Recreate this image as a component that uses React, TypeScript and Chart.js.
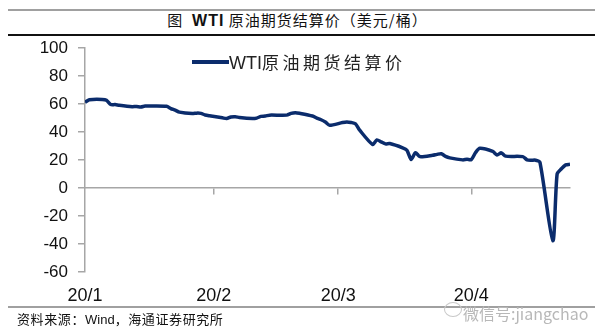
import React, { useEffect, useRef } from "react";
import { Chart, registerables } from "chart.js";

Chart.register(...registerables);

const DATES: string[] = [
  "2020-01-02", "2020-01-03", "2020-01-06", "2020-01-07", "2020-01-08", "2020-01-09", "2020-01-10",
  "2020-01-13", "2020-01-14", "2020-01-15", "2020-01-16", "2020-01-17", "2020-01-21", "2020-01-22",
  "2020-01-23", "2020-01-24", "2020-01-27", "2020-01-28", "2020-01-29", "2020-01-30", "2020-01-31",
  "2020-02-03", "2020-02-04", "2020-02-05", "2020-02-06", "2020-02-07", "2020-02-10", "2020-02-11",
  "2020-02-12", "2020-02-13", "2020-02-14", "2020-02-18", "2020-02-19", "2020-02-20", "2020-02-21",
  "2020-02-24", "2020-02-25", "2020-02-26", "2020-02-27", "2020-02-28",
  "2020-03-02", "2020-03-03", "2020-03-04", "2020-03-05", "2020-03-06", "2020-03-09", "2020-03-10",
  "2020-03-11", "2020-03-12", "2020-03-13", "2020-03-16", "2020-03-17", "2020-03-18", "2020-03-19",
  "2020-03-20", "2020-03-23", "2020-03-24", "2020-03-25", "2020-03-26", "2020-03-27", "2020-03-30",
  "2020-03-31",
  "2020-04-01", "2020-04-02", "2020-04-03", "2020-04-06", "2020-04-07", "2020-04-08", "2020-04-09",
  "2020-04-13", "2020-04-14", "2020-04-15", "2020-04-16", "2020-04-17", "2020-04-20", "2020-04-21",
  "2020-04-22", "2020-04-23", "2020-04-24",
];

const WTI_SETTLE: number[] = [
  61.18, 63.05, 63.27, 62.7, 59.61, 59.56, 59.04,
  58.08, 58.23, 57.81, 58.52, 58.54, 58.34, 56.74,
  55.59, 54.19, 53.14, 53.48, 53.33, 52.14, 51.56,
  50.11, 49.61, 50.75, 50.95, 50.32, 49.57, 49.94,
  51.17, 51.42, 52.05, 52.05, 53.29, 53.78, 53.38,
  51.43, 49.9, 48.73, 47.09, 44.76,
  46.75, 47.18, 46.78, 45.9, 41.28, 31.13, 34.36,
  32.98, 31.5, 31.73, 28.7, 26.95, 20.37, 25.22,
  22.43, 23.36, 24.01, 24.49, 22.6, 21.51, 20.09,
  20.48,
  20.31, 25.32, 28.34, 26.08, 23.63, 25.09, 22.76,
  22.41, 20.11, 19.87, 19.87, 18.27, -37.63, 10.01,
  13.78, 16.5, 16.94,
];

const X_TICK_DATES: string[] = ["2020-01-02", "2020-02-01", "2020-03-01", "2020-04-01"];
const X_TICK_LABELS: string[] = ["20/1", "20/2", "20/3", "20/4"];
const X_MARK_DATES: string[] = ["2020-02-01", "2020-03-01", "2020-04-01"];
const Y_MIN = -60;
const Y_MAX = 100;
const Y_STEP = 20;

const SERIES_NAME = "WTI原油期货结算价";

function dayNum(s: string): number {
  const [y, m, d] = s.split("-").map(Number);
  return (Date.UTC(y, m - 1, d) - Date.UTC(2019, 11, 31)) / 86400000;
}

export default function App() {
  const ref = useRef<HTMLCanvasElement | null>(null);

  useEffect(() => {
    if (!ref.current) return;
    const xMin = dayNum(DATES[0]);
    const xMax = dayNum(DATES[DATES.length - 1]);
    const chart = new Chart(ref.current, {
      type: "line",
      data: {
        datasets: [
          {
            label: SERIES_NAME,
            data: DATES.map((d, i) => ({ x: dayNum(d), y: WTI_SETTLE[i] })),
            borderColor: "#0b2c6c",
            borderWidth: 3.5,
            pointRadius: 0,
            tension: 0.25,
            xAxisID: "x",
            yAxisID: "y",
          },
        ],
      },
      options: {
        animation: false,
        responsive: false,
        maintainAspectRatio: false,
        layout: { padding: { top: 48, right: 25, left: 0, bottom: 0 } },
        plugins: { legend: { display: false }, tooltip: { enabled: false }, title: { display: false } },
        scales: {
          y: {
            type: "linear",
            min: Y_MIN,
            max: Y_MAX,
            ticks: {
              stepSize: Y_STEP,
              font: { family: "'Liberation Sans', Arial, sans-serif", size: 17 },
              color: "#111",
              padding: 10,
            },
            grid: { drawOnChartArea: false, tickLength: 7, color: "#a6a6a6", lineWidth: 1.5 },
            border: { color: "#a6a6a6", width: 1.5 },
            afterFit: (s: any) => {
              s.width = 85;
            },
          },
          x: {
            type: "linear",
            position: "bottom",
            min: xMin,
            max: xMax,
            grid: { display: false },
            border: { display: false },
            ticks: {
              autoSkip: false,
              maxRotation: 0,
              padding: 5,
              font: { family: "'Liberation Sans', Arial, sans-serif", size: 18 },
              color: "#111",
              callback: (_v: any, i: number) => X_TICK_LABELS[i],
            },
            afterBuildTicks: (s: any) => {
              s.ticks = X_TICK_DATES.map((d) => ({ value: dayNum(d) }));
            },
            afterFit: (s: any) => {
              s.height = 59;
            },
          },
          xz: {
            type: "linear",
            axis: "x",
            position: { y: 0 } as any,
            min: xMin,
            max: xMax,
            ticks: { display: false },
            grid: { drawOnChartArea: false, tickLength: 6, color: "#a6a6a6", lineWidth: 1.5 },
            border: { color: "#a6a6a6", width: 1.5 },
            afterBuildTicks: (s: any) => {
              s.ticks = X_MARK_DATES.map((d) => ({ value: dayNum(d) }));
            },
          },
        } as any,
      },
    });
    return () => chart.destroy();
  }, []);

  const cjk = "'Noto Sans CJK SC', 'Liberation Sans', sans-serif";

  return (
    <div
      style={{
        position: "fixed",
        left: 0,
        top: 0,
        width: 595,
        height: 331,
        background: "#fff",
        overflow: "hidden",
        fontFamily: cjk,
      }}
    >
      <div style={{ position: "absolute", left: 8, right: 0, top: 9, height: 2, background: "#a0a0a0" }} />
      <div
        style={{
          position: "absolute",
          left: 0,
          width: 595,
          top: 9,
          height: 22,
          lineHeight: "22px",
          textAlign: "center",
          fontSize: 15,
          letterSpacing: 1,
          color: "#111",
          whiteSpace: "nowrap",
        }}
      >
        图&nbsp;&nbsp;<b style={{ fontFamily: "'Liberation Sans', Arial, sans-serif", fontSize: 16 }}>WTI</b> 原油期货结算价（美元/桶）
      </div>
      <div style={{ position: "absolute", left: 8, right: 0, top: 34, height: 1.5, background: "#111" }} />

      <canvas ref={ref} width={595} height={331} style={{ position: "absolute", left: 0, top: 0, width: 595, height: 331 }} />

      <div style={{ position: "absolute", left: 192, top: 60, width: 37, height: 3.5, background: "#0b2c6c" }} />
      <div
        style={{
          position: "absolute",
          left: 229,
          top: 50,
          height: 24,
          lineHeight: "24px",
          fontSize: 17,
          letterSpacing: 3.5,
          color: "#222",
          whiteSpace: "nowrap",
        }}
      >
        <span style={{ fontFamily: "'Liberation Sans', Arial, sans-serif", fontSize: 18, letterSpacing: 0 }}>WTI</span>
        原油期货结算价
      </div>

      <div style={{ position: "absolute", left: 8, right: 0, top: 306, height: 1.5, background: "#a0a0a0" }} />
      <div
        style={{
          position: "absolute",
          left: 17,
          top: 309,
          height: 20,
          lineHeight: "20px",
          fontSize: 13,
          letterSpacing: 0.6,
          color: "#111",
          whiteSpace: "nowrap",
        }}
      >
        资料来源：<span style={{ fontFamily: "'Liberation Sans', Arial, sans-serif", letterSpacing: 0 }}>Wind</span>，海通证券研究所
      </div>
      <div
        style={{
          position: "absolute",
          left: 444,
          top: 302,
          width: 16,
          height: 13,
          borderRadius: "50%",
          border: "1px solid #c8c8c8",
        }}
      />
      <div
        style={{
          position: "absolute",
          left: 463,
          top: 302,
          height: 22,
          lineHeight: "22px",
          fontSize: 16,
          color: "#b8b8b8",
          whiteSpace: "nowrap",
        }}
      >
        微信号:jiangchao
      </div>
    </div>
  );
}
